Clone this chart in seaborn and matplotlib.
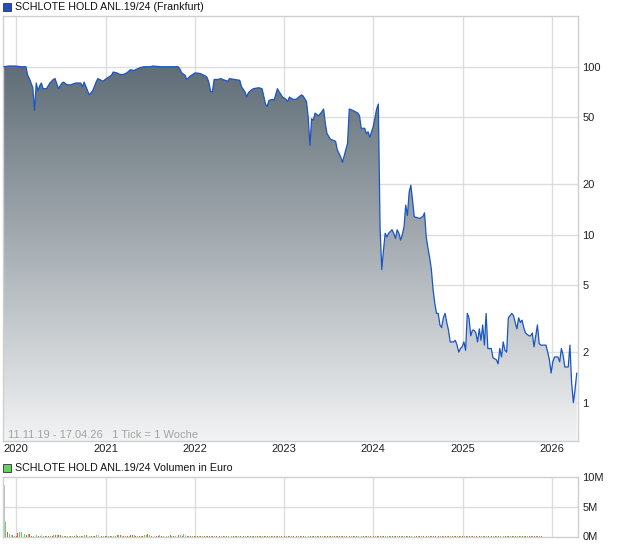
import numpy as np
import pandas as pd
import matplotlib
matplotlib.use("Agg")
import matplotlib.pyplot as plt
import matplotlib.dates as mdates
from matplotlib.colors import LinearSegmentedColormap
from matplotlib.patches import Rectangle
import seaborn as sns

# ---------------- data ----------------
start_date = "2019-11-11"          # first weekly tick
title_price = "SCHLOTE HOLD ANL.19/24 (Frankfurt)"
title_volume = "SCHLOTE HOLD ANL.19/24 Volumen in Euro"
range_label = "11.11.19 - 17.04.26   1 Tick = 1 Woche"

# week index (since start_date) and closing price readings
price_weeks = [0, 3, 7, 10, 13, 14, 15, 17, 18, 19, 20, 21, 22, 23, 25, 27, 29, 30, 32, 34,
               35, 37, 39, 42, 45, 46, 47, 49, 50, 52, 54, 55, 56, 58, 60, 63, 64, 66, 68, 70,
               72, 74, 76, 78, 80, 82, 86, 87, 92, 102, 103, 104, 106, 107, 109, 112, 115, 118, 119, 120,
               121, 122, 123, 125, 127, 128, 131, 132, 135, 138, 139, 141, 142, 143, 145, 146, 149, 151, 152, 153,
               154, 155, 157, 158, 160, 161, 163, 165, 166, 167, 169, 171, 174, 175, 177, 178, 179, 180, 181, 182,
               184, 186, 187, 188, 189, 191, 194, 195, 197, 198, 200, 201, 202, 204, 207, 208, 209, 211, 212, 213,
               214, 215, 216, 218, 219, 220, 221, 222, 223, 224, 225, 227, 228, 229, 230, 231, 232, 233, 234, 235,
               236, 237, 238, 239, 240, 243, 245, 246, 247, 248, 249, 250, 251, 252, 253, 254, 255, 256, 257, 258,
               259, 260, 261, 263, 264, 265, 266, 267, 268, 269, 270, 271, 272, 273, 274, 275, 276, 277, 278, 279,
               280, 281, 282, 283, 285, 286, 288, 289, 290, 291, 292, 293, 294, 295, 297, 298, 299, 300, 301, 302,
               303, 304, 305, 307, 308, 309, 310, 311, 312, 313, 314, 316, 317, 318, 319, 320, 321, 322, 324, 325,
               326, 327, 328, 330, 331, 332, 333, 334, 335]
prices = [100, 101, 101, 100, 100, 89, 85, 75, 55, 80, 72, 77, 80, 74, 74, 80, 84, 85, 74, 80,
          81, 78, 78, 80, 80, 76, 81, 72, 68, 72, 81, 85, 84, 82, 85, 89, 93, 92, 90, 90,
          92, 96, 95, 97, 99, 100, 100, 101, 100, 100, 97, 92, 89, 84, 88, 92, 91, 88, 86, 80,
          71, 71, 84, 84, 85, 84, 82, 85, 84, 83, 76, 71, 66, 70, 73, 74, 75, 74, 67, 60,
          58, 63, 64, 63, 74, 71, 66, 64, 62, 66, 64, 64, 68, 67, 62, 50, 34, 49, 48, 53,
          51, 54, 56, 46, 40, 37, 36, 32, 29, 27, 32, 35, 56, 55, 53, 51, 43, 43, 40, 41,
          38, 41, 44, 56, 60, 11, 6.2, 8.1, 10.2, 9.7, 10.2, 10.7, 10.2, 9.5, 10.7, 10.2, 9.3, 10, 11.1, 15,
          13.0, 17.9, 19.7, 16.0, 12.8, 12.5, 12.8, 13.5, 9.7, 8.3, 7.3, 6.2, 4.7, 3.9, 3.4, 3.4, 2.9, 2.8, 3.2, 3.4,
          3.0, 2.7, 2.3, 2.3, 2.35, 2.2, 2.0, 2.1, 2.15, 2.3, 2.05, 3.4, 3.2, 2.5, 2.7, 2.7, 2.6, 2.3, 2.75, 2.35,
          2.9, 2.2, 3.4, 2.1, 2.1, 1.85, 1.8, 1.7, 2.1, 1.87, 2.3, 2.05, 2.0, 3.2, 3.4, 3.3, 3.0, 2.75, 3.2, 3.0,
          3.1, 2.8, 2.6, 2.5, 2.5, 2.6, 2.15, 2.5, 2.9, 2.25, 2.2, 2.2, 2.2, 2.0, 1.8, 1.5, 1.75, 1.87, 1.87, 1.75,
          2.1, 1.92, 1.63, 1.63, 2.2, 1.3, 1.0, 1.2, 1.5]

# weekly volume in thousand euro (weeks 0..335)
volumes_k = [8700, 2500, 800, 400, 300, 200, 150, 100, 550, 800, 800, 250, 400, 300, 500, 450, 150, 150, 120, 180,
             150, 120, 200, 150, 130, 160, 140, 120, 150, 180, 200, 300, 320, 250, 150, 120, 140, 160, 130, 150,
             120, 150, 180, 140, 160, 130, 150, 200, 250, 180, 150, 160, 140, 120, 250, 200, 150, 130, 160, 140,
             150, 120, 140, 160, 130, 150, 180, 250, 200, 150, 140, 160, 150, 130, 200, 250, 180, 150, 140, 130,
             160, 150, 300, 250, 350, 200, 150, 140, 160, 130, 150, 250, 150, 140, 160, 150, 130, 200, 150, 140,
             150, 130, 300, 200, 150, 350, 180, 150, 140, 120, 130, 120, 110, 100, 120, 110, 100, 120, 110, 100,
             110, 100, 120, 100, 110, 120, 100, 110, 100, 120, 110, 100, 120, 110, 100, 110, 120, 100, 110, 100,
             120, 110, 100, 110, 120, 100, 110, 100, 120, 110, 100, 120, 110, 100, 110, 120, 100, 110, 100, 120,
             110, 100, 120, 110, 100, 110, 120, 100, 110, 100, 120, 110, 100, 120, 110, 100, 110, 120, 100, 110,
             100, 120, 110, 100, 120, 110, 100, 110, 120, 100, 110, 100, 120, 110, 100, 120, 110, 100, 110, 120,
             100, 110, 100, 120, 110, 100, 120, 110, 100, 110, 120, 100, 110, 100, 120, 110, 100, 120, 110, 100,
             110, 120, 100, 110, 100, 120, 110, 100, 120, 110, 100, 110, 120, 100, 110, 100, 120, 110, 100, 120,
             110, 100, 110, 120, 100, 110, 100, 120, 110, 100, 120, 110, 100, 110, 120, 100, 110, 100, 120, 110,
             100, 120, 110, 100, 110, 120, 100, 110, 100, 120, 110, 100, 120, 110, 100, 110, 120, 100, 110, 100,
             120, 110, 100, 120, 110, 100, 110, 120, 100, 110, 100, 120, 110, 100, 120, 110, 100, 110, 120, 100,
             110, 100, 120, 110, 100, 120, 110, 100, 110, 120, 100, 110, 100, 120, 110, 100]
# direction of each week: g = up, r = down, n = unchanged
volume_dirs = ("ngrgnrgrrggrgrgrrgrgrgngrgrg"
               "rgrgrrggrgnrgrgrgrggrrgrgrgn"
               "grgrrgrgggrgrnrgrgrrgrgrgrgg"
               "rgrgnrrgrgrggrgrgrrgrgnrgrgr"
               "grgrgrgrrgrgrgrgrgrgrgrgrgrg"
               "rgrgrgrgrgrgrgrgrgrgrgrgrgrg"
               "grgrgrgrgrgrgrgrgrgrgrgrgrgr"
               "rgrgrgrgrgrgrgrgrgrgrgrgrgrg"
               "grgrgrgrgrgrgrgrgrgrgrgrgrgr"
               "rgrgrgrgrgrgrgrgrgrgrgrgrgrg"
               "grgrgrgrgrgrgrgrgrgrgrgrgrgr"
               "rgrgrgrgrgrgrgrgrgrgrgrgrgrg")

year_ticks = ["2020", "2021", "2022", "2023", "2024", "2025", "2026"]
price_ticks = [1, 2, 5, 10, 20, 50, 100]
volume_ticks = [0, 5, 10]
volume_tick_labels = ["0M", "5M", "10M"]

# ---------------- figure ----------------
sns.set_theme(style="white")
plt.rcParams["font.family"] = ["Liberation Sans", "DejaVu Sans"]

W, H = 620, 546
fig = plt.figure(figsize=(W / 100, H / 100), dpi=100)
fig.patch.set_facecolor("white")

grid_c = "#dddddd"
frame_c = "#cfcfcf"
line_c = "#1a55c4"

t0 = pd.Timestamp(start_date)
p_dates = t0 + pd.to_timedelta(np.array(price_weeks) * 7, unit="D")
v_dates = t0 + pd.to_timedelta(np.arange(len(volumes_k)) * 7, unit="D")
xmin = mdates.date2num(pd.Timestamp("2019-11-08"))
xmax = mdates.date2num(pd.Timestamp("2026-04-18"))
ymin, ymax = 0.591, 200.5

# ---- main price axes ----
ax = fig.add_axes([3 / W, 1 - 441 / H, 575 / W, 425 / H])
ax.set_yscale("log")
ax.set_xlim(xmin, xmax)
ax.set_ylim(ymin, ymax)

year_pos = [mdates.date2num(pd.Timestamp(y + "-01-01")) for y in year_ticks]
for xp in year_pos:
    ax.axvline(xp, color=grid_c, lw=1, zorder=0)
for yp in price_ticks:
    ax.axhline(yp, color=grid_c, lw=1, zorder=0)

px = mdates.date2num(p_dates)
poly = ax.fill_between(px, prices, ymin * 0.5, color="none", lw=0, zorder=1)
cmap = LinearSegmentedColormap.from_list("g", ["#f2f3f4", "#4d5c66"])
grad = np.linspace(0, 1, 256).reshape(-1, 1)
im = ax.imshow(grad, extent=[0, 1, 0, 1], transform=ax.transAxes, origin="lower",
               aspect="auto", cmap=cmap, zorder=1, interpolation="bilinear")
im.set_clip_path(poly.get_paths()[0], transform=ax.transData)

price_df = pd.DataFrame({"x": px, "price": prices})
sns.lineplot(data=price_df, x="x", y="price", ax=ax, color=line_c, lw=0.9, zorder=3)
ax.set_xlim(xmin, xmax)
ax.set_ylim(ymin, ymax)

ax.set_xlabel("")
ax.set_ylabel("")
ax.yaxis.tick_right()
ax.set_yticks(price_ticks)
ax.set_yticklabels([str(v) for v in price_ticks])
ax.yaxis.set_minor_locator(matplotlib.ticker.NullLocator())
ax.set_xticks(year_pos)
ax.set_xticklabels(year_ticks)
ax.tick_params(axis="both", length=0, labelsize=8, colors="#222222")
ax.tick_params(axis="y", pad=3)
ax.tick_params(axis="x", pad=2)
for s in ax.spines.values():
    s.set_color(frame_c)
    s.set_linewidth(1)
ax.text(5 / 575, 6 / 425, range_label, transform=ax.transAxes, fontsize=8,
        color="#a3a3a3", va="center", ha="left", zorder=4)

# ---- volume axes ----
axv = fig.add_axes([3 / W, 1 - 536.5 / H, 575 / W, 59.5 / H])
axv.set_xlim(xmin, xmax)
axv.set_ylim(0, 10e6)
for xp in year_pos:
    axv.axvline(xp, color=grid_c, lw=1, zorder=0)
axv.axhline(5e6, color=grid_c, lw=1, zorder=0)
col_map = {"g": "#62d262", "r": "#e05555", "n": "#c4c4c4"}
vcols = [col_map[c] for c in volume_dirs[:len(volumes_k)]]
axv.bar(mdates.date2num(v_dates), np.array(volumes_k) * 1000.0, width=3.8,
        align="edge", color=vcols, lw=0, zorder=3)
axv.yaxis.tick_right()
axv.set_yticks([v * 1e6 for v in volume_ticks])
axv.set_yticklabels(volume_tick_labels)
axv.set_xticks([])
axv.tick_params(axis="both", length=0, labelsize=8, colors="#222222", pad=3)
for s in axv.spines.values():
    s.set_color(frame_c)
    s.set_linewidth(1)
    s.set_zorder(1)

# ---- titles with legend squares ----
fig.patches.append(Rectangle((3 / W, 1 - 11 / H), 8 / W, 8 / H, transform=fig.transFigure,
                             facecolor="#1f4fb8", edgecolor="#333333", lw=0.6))
fig.text(15 / W, 1 - 7 / H, title_price, fontsize=7.7, va="center", ha="left", color="#111111")
fig.patches.append(Rectangle((3 / W, 1 - 472 / H), 8 / W, 8 / H, transform=fig.transFigure,
                             facecolor="#62d262", edgecolor="#333333", lw=0.6))
fig.text(15 / W, 1 - 468 / H, title_volume, fontsize=7.7, va="center", ha="left", color="#111111")

fig.savefig("out.png", dpi=100)
